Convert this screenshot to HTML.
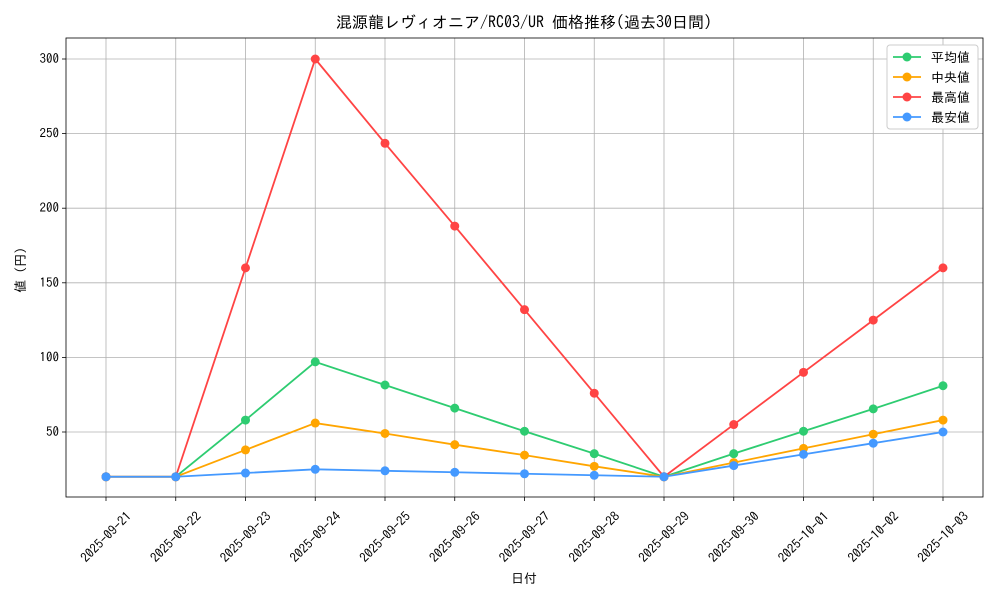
<!DOCTYPE html>
<html><head><meta charset="utf-8"><style>
body{margin:0;background:#fff;font-family:"IPAGothic","Noto Sans CJK JP",sans-serif;}
svg text{font-family:"IPAGothic","Noto Sans CJK JP",sans-serif;}
</style></head><body>
<svg id="chart" width="1000" height="600" xmlns="http://www.w3.org/2000/svg"></svg>
<script>
const categories=["2025-09-21","2025-09-22","2025-09-23","2025-09-24","2025-09-25","2025-09-26","2025-09-27","2025-09-28","2025-09-29","2025-09-30","2025-10-01","2025-10-02","2025-10-03"];
const avgValues=[20,20,58,97,81.5,66,50.5,35.5,20,35.5,50.5,65.5,81];
const medianValues=[20,20,38,56,49,41.5,34.5,27,20,29.5,39,48.5,58];
const maxValues=[20,20,160,300,243.5,188,132,76,20,55,90,125,160];
const minValues=[20,20,22.5,25,24,23,22,21,20,27.5,35,42.5,50];
const yTicks=[50,100,150,200,250,300];
const seriesNames=["平均値","中央値","最高値","最安値"];
const seriesColors=["#2ecc71","#ffa500","#ff4444","#4499ff"];

const svg=document.getElementById('chart');
const NS="http://www.w3.org/2000/svg";
const L=66,R=983,T=38,B=497;
function x(i){return 106+i*(943-106)/(categories.length-1);}
function y(v){return 432-(v-50)*(373/250);}
function mk(tag,attrs,parent){const e=document.createElementNS(NS,tag);for(const k in attrs)e.setAttribute(k,attrs[k]);(parent||svg).appendChild(e);return e;}

const grid=mk('g',{});


categories.forEach((c,i)=>{
  mk('line',{x1:x(i),x2:x(i),y1:T,y2:B,stroke:'#b0b0b0','stroke-width':0.8},grid);
  mk('line',{x1:x(i),x2:x(i),y1:B,y2:B+4,stroke:'#000','stroke-width':0.8});
  const cy=537;
  const t=mk('text',{x:x(i),y:cy,'font-size':13,'text-anchor':'middle','dominant-baseline':'central',transform:`rotate(-45 ${x(i)} ${cy})`});
  
  
  t.textContent=c;
});
yTicks.forEach(v=>{
  mk('line',{x1:L,x2:R,y1:y(v),y2:y(v),stroke:'#b0b0b0','stroke-width':0.8},grid);
  mk('line',{x1:L-4,x2:L,y1:y(v),y2:y(v),stroke:'#000','stroke-width':0.8});
  const t=mk('text',{x:L-7,y:y(v)+4,'font-size':13,'text-anchor':'end'});
  
  
  t.textContent=v;
});
const frame=mk('rect',{x:L,y:T,width:R-L,height:B-T,fill:'none',stroke:'#000','stroke-width':0.8});



const allSeries=[avgValues,medianValues,maxValues,minValues];
const keys=['average','median','max','min'];
allSeries.forEach((vals,s)=>{
  const g=mk('g',{});
  
  
  mk('polyline',{points:vals.map((v,i)=>x(i)+','+y(v)).join(' '),fill:'none',stroke:seriesColors[s],'stroke-width':1.8},g);
  vals.forEach((v,i)=>{
    const c=mk('circle',{cx:x(i),cy:y(v),r:4.5,fill:seriesColors[s]},g);
    
    
  });
});

const title=mk('text',{x:524,y:28,'font-size':16,'text-anchor':'middle'});


title.textContent='混源龍レヴィオニア/RC03/UR 価格推移(過去30日間)';
const xt=mk('text',{x:524,y:583,'font-size':13,'text-anchor':'middle'});


xt.textContent='日付';
const yt=mk('text',{x:25,y:270,'font-size':13,'text-anchor':'middle',transform:'rotate(-90 25 270)'});


yt.textContent='値 (円)';

const lg=mk('g',{});


mk('rect',{x:887,y:45,width:91,height:84,rx:3,fill:'#fff',stroke:'#ccc','stroke-width':1},lg);
seriesNames.forEach((n,i)=>{
  const yy=57+i*20;
  const e=mk('g',{},lg);
  
  
  mk('line',{x1:893,x2:921,y1:yy,y2:yy,stroke:seriesColors[i],'stroke-width':1.8},e);
  mk('circle',{cx:907,cy:yy,r:4.5,fill:seriesColors[i]},e);
  const t=mk('text',{x:931,y:yy+5,'font-size':13},e);
  t.textContent=n;
});
</script>
</body></html>
